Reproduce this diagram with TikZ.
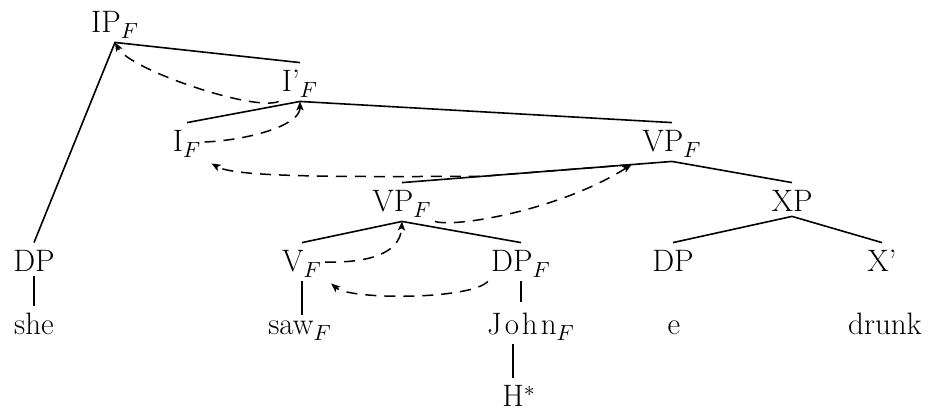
\documentclass[tikz,border=0pt]{standalone}
\usetikzlibrary{arrows.meta,calc}
\begin{document}
\begin{tikzpicture}[x=0.5pt,y=-0.5pt,
  lab/.style={font=\fontsize{15.5}{18}\selectfont, inner xsep=1.5pt, inner ysep=2pt, text height=12.5pt, anchor=base},
  edge/.style={line width=0.8pt},
  mv/.style={line width=0.75pt, dash pattern=on 5.5pt off 4pt, -{Stealth[length=4.5pt,width=3.6pt,inset=1pt]}}]
\useasboundingbox (0,0) rectangle (928,411);
% nodes
\node[lab] (ip) at (115,33) {IP$_F$};
\node[lab] (ipr) at (300,92) {I'$_F$};
\node[lab] (if) at (187,152) {I$_F$};
\node[lab] (vpu) at (672,152) {VP$_F$};
\node[lab] (vpl) at (402,212) {VP$_F$};
\node[lab] (xp) at (792,212) {XP};
\node[lab] (dpa) at (34,272) {DP};
\node[lab] (vf) at (302,272) {V$_F$};
\node[lab] (dpf) at (521,272) {DP$_F$};
\node[lab] (dpb) at (673,272) {DP};
\node[lab] (xb) at (882,272) {X'};
\node[lab] (she) at (34,335) {she};
\node[lab,text height=8pt] (saw) at (300,335) {saw$_F$};
\node[lab,text height=14.5pt] (john) at (531,335) {J\kern1.5pt o\kern1.5pt h\kern1.5pt n$_F$};
\node[lab] (e) at (674,335) {e};
\node[lab] (drunk) at (885,335) {drunk};
\node[lab] (hs) at (519,407) {H$^*$};
% tree edges
\draw[edge] (dpa.north) -- (ip.south) -- (ipr.north);
\draw[edge] (if.north) -- (ipr.south) -- (vpu.north);
\draw[edge] (vpl.north) -- (vpu.south) -- (xp.north);
\draw[edge] (vf.north) -- (vpl.south) -- (dpf.north);
\draw[edge] (dpb.north) -- (xp.south) -- (xb.north);
\draw[edge] (dpa.south) -- (she.north);
\draw[edge] (vf.south) -- (vf.south |- saw.north);
\draw[edge] (dpf.south) -- (dpf.south |- john.north);
\draw[edge] ([xshift=-3pt]hs.north) -- ([xshift=-3pt]hs.north |- john.south);
% movement arrows
\coordinate (vpa) at ($(vpu.south)!0.15!(vpl.north)$);
\coordinate (vpb) at ($(vpu.south)!0.7!(vpl.north)$);
\draw[mv] (ipr.south west) .. controls (255,112) and (130,70) .. (ip.south);
\draw[mv] (if.east) .. controls (250,140) and (300,125) .. (ipr.south);
\draw[mv] (vpa) -- (vpb) .. controls (330,177) and (235,177) .. ([xshift=3.5pt,yshift=-1pt]if.south east);
\draw[mv] (vpl.south east) .. controls (455,228) and (560,210) .. (vpa);
\draw[mv] (vf.east) .. controls (365,263) and (400,255) .. (vpl.south);
\draw[mv] (dpf.south west) .. controls (470,300) and (350,300) .. ([xshift=3pt,yshift=-1pt]vf.south east);
\end{tikzpicture}
\end{document}
